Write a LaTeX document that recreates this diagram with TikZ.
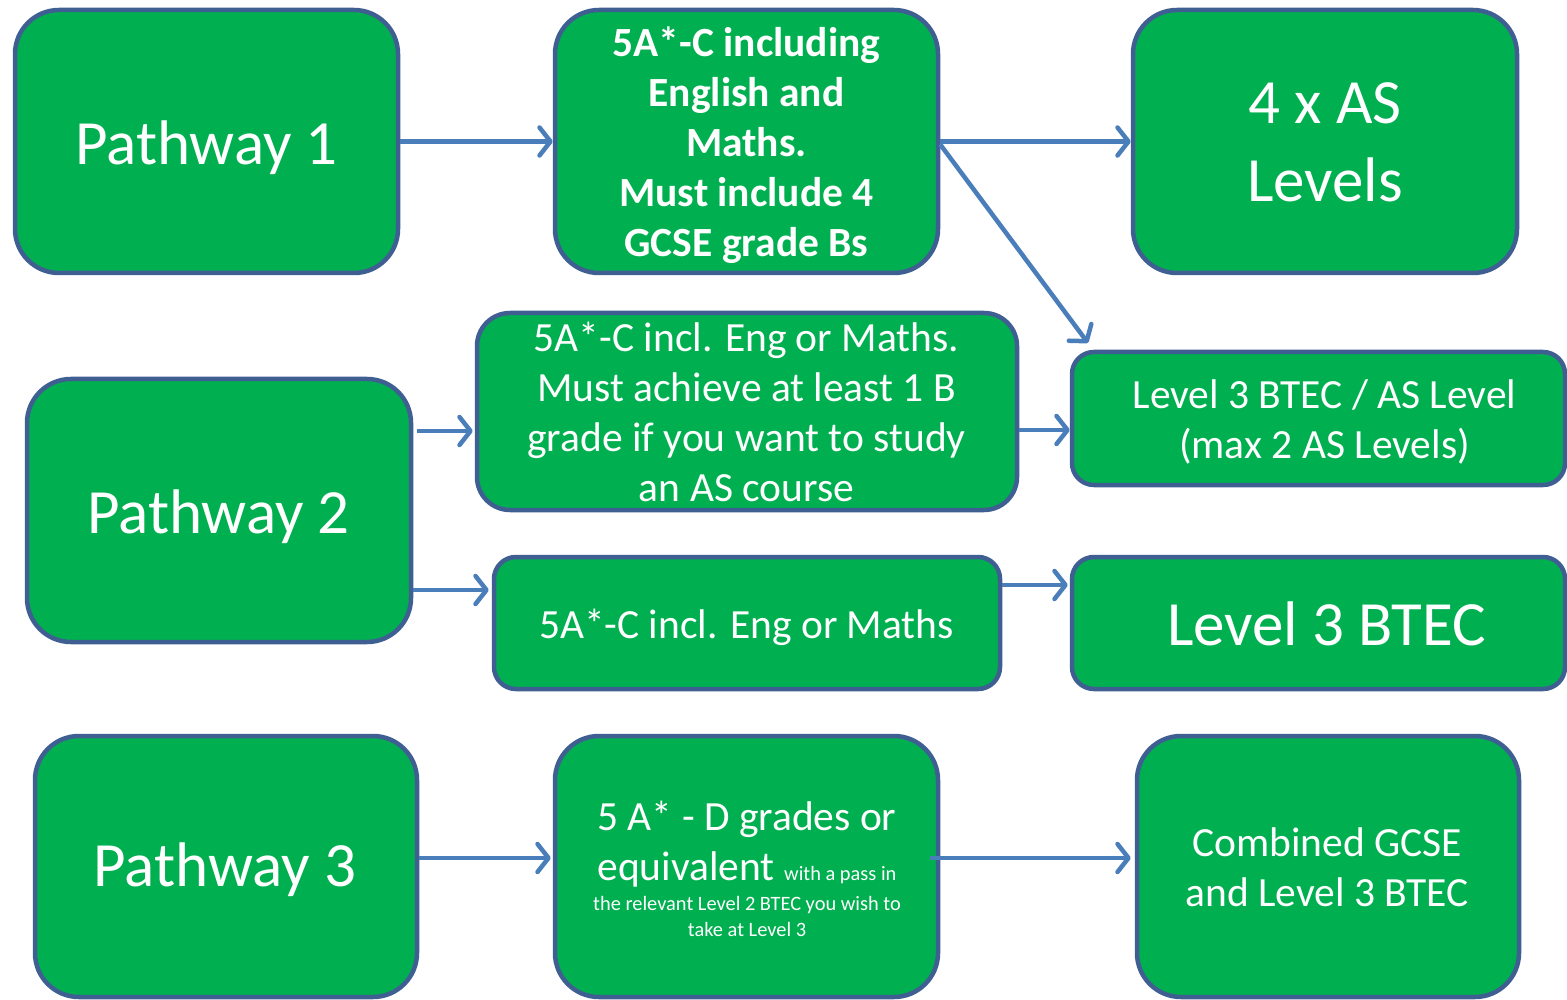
\documentclass[tikz,border=0pt]{standalone}
\usepackage{fontspec}
\setmainfont{Carlito}
\usetikzlibrary{arrows.meta}
\definecolor{boxgreen}{HTML}{00B050}
\definecolor{boxedge}{HTML}{3F5F93}
\definecolor{arrowblue}{HTML}{4A7EBB}
\begin{document}
\begin{tikzpicture}[x=1pt,y=-1pt,
  box/.style={draw=boxedge, fill=boxgreen, line width=4.5pt, inner sep=0pt},
  bigbox/.style={box, rounded corners=44pt},
  midbox/.style={box, rounded corners=33pt},
  smallbox/.style={box, rounded corners=22pt},
  txt/.style={text=white, align=center, inner sep=0pt},
  huge/.style={txt, font=\fontsize{63}{77}\selectfont},
  norm/.style={txt, font=\fontsize{41.5}{50}\selectfont},
  arr/.style={draw=arrowblue, line width=4.5pt,
    -{Straight Barb[length=11pt,width=28pt,round]}}]
\fill[white] (0,0) rectangle (1567,1000);
\useasboundingbox (0,0) rectangle (1567,1000);

% boxes
\node[bigbox, minimum width=383pt, minimum height=263pt] (p1) at (206.5,141.5) {};
\node[bigbox, minimum width=383pt, minimum height=263pt] (a) at (746.5,141.5) {};
\node[bigbox, minimum width=384pt, minimum height=263pt] (b) at (1325,141.5) {};
\node[midbox, minimum width=540pt, minimum height=197pt] (d) at (747,411.5) {};
\node[smallbox, minimum width=493pt, minimum height=133pt] (c) at (1318.5,418.5) {};
\node[bigbox, minimum width=384pt, minimum height=263pt] (p2) at (219,510.5) {};
\node[smallbox, minimum width=506pt, minimum height=132pt] (e) at (747,623) {};
\node[smallbox, minimum width=493pt, minimum height=132pt] (f) at (1318.5,623) {};
\node[bigbox, minimum width=382pt, minimum height=261pt] (p3) at (226,866.5) {};
\node[bigbox, minimum width=383pt, minimum height=261pt] (g) at (746.5,866.5) {};
\node[bigbox, minimum width=382pt, minimum height=261pt] (h) at (1328,866.5) {};

% texts
\node[huge] (t1) at (206.5,148) {Pathway 1};
\node[norm, font=\fontsize{41.5}{50}\selectfont\bfseries] (ta) at (746.5,145)
  {5A*-C including\\English and\\Maths.\\Must include 4\\GCSE grade Bs};
\node[huge, font=\fontsize{63}{78}\selectfont] (tb) at (1325,142.5) {4 x AS\\Levels};
\node[norm] (td) at (746.5,412)
  {5A*-C incl. Eng or Maths.\\Must achieve at least 1 B\\grade if you want to study\\an AS course};
\node[norm] (tc) at (1324.5,421.5) {Level 3 BTEC / AS Level\\(max 2 AS Levels)};
\node[huge] (t2) at (218.5,517) {Pathway 2};
\node[norm] (te) at (746.5,627) {5A*-C incl. Eng or Maths};
\node[huge] (tf) at (1326.5,623.5) {Level 3 BTEC};
\node[huge] (t3) at (225,870) {Pathway 3};
\node[norm] (tg) at (747,869)
  {5 A* - D grades or\\equivalent {\fontsize{20.4}{25}\selectfont with a pass in}\\[-20pt]%
   {\fontsize{20.4}{25}\selectfont the relevant Level 2 BTEC you wish to}\\[-24pt]%
   {\fontsize{20.4}{25}\selectfont take at Level 3}};
\node[norm] (th) at (1327,867) {Combined GCSE\\and Level 3 BTEC};

% connectors
\coordinate (diagtip) at (1088,343);
\draw[arr] (p1.east) -- (a.west);
\draw[arr] (a.east) -- (b.west);
\draw[arr] ([shift={(0,3)}]a.east) -- (diagtip);
\draw[arr] ([shift={(4,-79.5)}]p2.east) -- ([shift={(-2,19.5)}]d.west);
\draw[arr] ([shift={(0,18.5)}]d.east) -- ([shift={(0,11.5)}]c.west);
\draw[arr] ([shift={(0,79.5)}]p2.east) -- ([shift={(-3,-33)}]e.west);
\draw[arr] ([shift={(0,-38)}]e.east) -- ([shift={(-2,-38)}]f.west);
\draw[arr] ([shift={(0,-8.5)}]p3.east) -- ([shift={(-2,-8.5)}]g.west);
\draw[arr] ([shift={(-10,-8.5)}]g.east) -- ([shift={(-4,-8.5)}]h.west);
\end{tikzpicture}
\end{document}
